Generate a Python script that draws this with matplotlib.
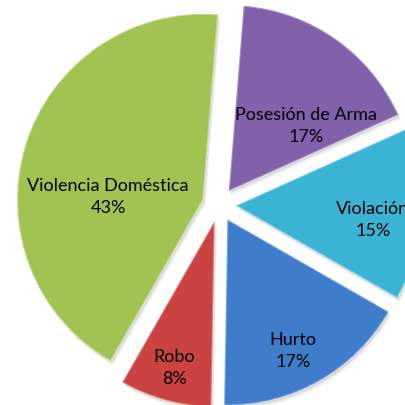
import matplotlib
matplotlib.use("Agg")
import matplotlib.pyplot as plt
from matplotlib.patches import Wedge

# data
categories = ["Posesión de Arma", "Violación", "Hurto", "Robo", "Violencia Doméstica"]
shares = [17, 15, 17, 8, 43]
colors = ["#8061AA", "#3BB3D5", "#3F7DCA", "#CB4340", "#A0C352"]

# label anchor points (pie units, centre at 0,0, radius 1)
label_pos = [(0.467, 0.429), (0.827, -0.076), (0.397, -0.781), (-0.242, -0.872), (-0.597, 0.047)]

plt.rcParams["font.family"] = ["Lato", "DejaVu Sans"]

fig = plt.figure(figsize=(4.06, 4.06), dpi=100)
ax = fig.add_axes([0, 0, 1, 1])

wedges, _ = ax.pie(
    shares, colors=colors, startangle=85.4, counterclock=False,
    explode=[0.09] * len(shares), radius=1,
    wedgeprops=dict(edgecolor="none", linewidth=0, zorder=3),
)

# soft drop shadow + light rim, a rough stand-in for the bevel look
for w in wedges:
    cx, cy = w.center
    for k, a in [(0.012, 0.10), (0.022, 0.06)]:
        sh = Wedge((cx + k * 0.6, cy - k), w.r, w.theta1, w.theta2,
                   facecolor="#000000", alpha=a, edgecolor="none", zorder=1)
        ax.add_patch(sh)
    rim = Wedge((cx, cy), w.r, w.theta1, w.theta2, facecolor="none",
                edgecolor="white", alpha=0.3, linewidth=1.6, zorder=4)
    ax.add_patch(rim)

for name, pct, (x, y) in zip(categories, shares, label_pos):
    ax.text(x, y, f"{name}\n{pct}%", ha="center", va="center",
            fontsize=13, color="black", linespacing=1.4, zorder=5)

ax.set_xlim(-1.178, 1.005)
ax.set_ylim(-1.076, 1.106)
ax.set_aspect("equal")
ax.axis("off")

fig.savefig("out.png", dpi=100, facecolor="white")
